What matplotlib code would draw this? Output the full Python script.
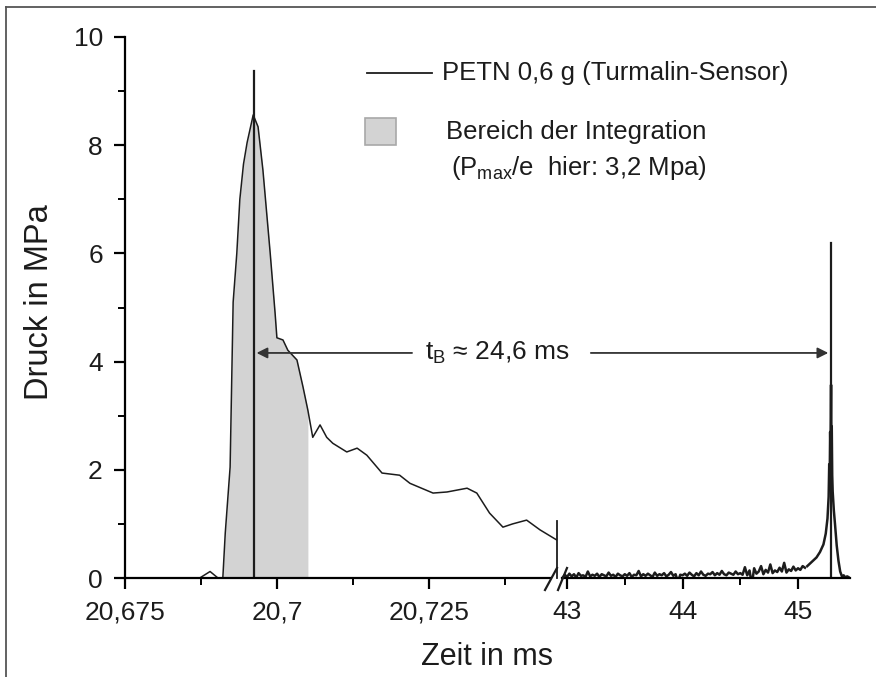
import numpy as np
import matplotlib
matplotlib.use("Agg")
import matplotlib.pyplot as plt
from matplotlib.patches import Rectangle
from matplotlib.lines import Line2D

plt.rcParams['font.family'] = ['Liberation Sans', 'DejaVu Sans']
plt.rcParams['mathtext.default'] = 'regular'

# first pulse (time in ms, pressure in MPa)
t_left = [20.6753, 20.6873, 20.6890, 20.6903, 20.6911, 20.6915, 20.6923, 20.6928, 20.6934, 20.6939,
          20.6945, 20.6951, 20.6961, 20.6969, 20.6977, 20.6989, 20.6997, 20.7000, 20.7010, 20.7018,
          20.7033, 20.7043, 20.7051, 20.7059, 20.7071, 20.7082, 20.7092, 20.7115, 20.7132, 20.7148,
          20.7173, 20.7202, 20.7219, 20.7257, 20.7280, 20.7313, 20.7329, 20.7350, 20.7372, 20.7388,
          20.7411, 20.7433, 20.7461]
p_left = [0, 0, 0.12, 0, 0, 0.83, 2.05, 5.1, 6.0, 7.0,
          7.65, 8.05, 8.56, 8.34, 7.54, 6.0, 4.9, 4.44, 4.4, 4.21,
          4.03, 3.53, 3.1, 2.6, 2.83, 2.6, 2.49, 2.33, 2.40, 2.27,
          1.94, 1.9, 1.75, 1.57, 1.59, 1.66, 1.57, 1.2, 0.94, 1.0,
          1.07, 0.89, 0.70]
integ_start, integ_end = 20.6911, 20.7051

# noisy baseline before the reflected peak (sampled every 0.02 ms from 42.96 ms)
p_noise = [0.00, 0.06, 0.02, 0.08, 0.03, 0.07, 0.01, 0.09, 0.04, 0.05, 0.02, 0.12, 0.03, 0.06,
           0.04, 0.08, 0.02, 0.07, 0.05, 0.03, 0.10, 0.04, 0.06, 0.02, 0.08, 0.05, 0.03, 0.07,
           0.04, 0.09, 0.02, 0.06, 0.05, 0.13, 0.03, 0.07, 0.04, 0.08, 0.05, 0.02, 0.10, 0.04,
           0.07, 0.05, 0.09, 0.03, 0.06, 0.11, 0.04, 0.07, -0.08, 0.06, 0.05,
           0.08, 0.04, 0.10, 0.06, 0.03, 0.09, 0.05, 0.12, 0.06, 0.04, 0.08, 0.07, 0.11, 0.05,
           0.09, 0.06, 0.13, 0.07, 0.05, 0.10, 0.08, 0.06, 0.12, 0.07, 0.09,
           0.06, 0.20, 0.05, 0.14, -0.12, 0.18, 0.08, 0.12, 0.22, 0.07, 0.15, 0.10, 0.25, 0.09,
           0.14, 0.11, 0.19, 0.12, 0.28, 0.10, 0.16, 0.13, 0.21, 0.14, 0.18, 0.15, 0.22, 0.19]
t_noise = 42.96 + 0.02 * np.arange(len(p_noise))

# reflected peak
t_peak = [45.08, 45.12, 45.16, 45.19, 45.22, 45.24, 45.255, 45.265, 45.270, 45.274,
          45.278, 45.281, 45.284, 45.286, 45.289, 45.292, 45.296, 45.300, 45.310, 45.320,
          45.335, 45.350, 45.365, 45.380, 45.395, 45.41, 45.425, 45.435]
p_peak = [0.22, 0.30, 0.38, 0.48, 0.62, 0.82, 1.10, 1.50, 2.10, 1.80,
          2.70, 2.30, 3.10, 3.57, 2.50, 2.80, 1.90, 1.60, 1.25, 1.00,
          0.60, 0.32, 0.12, 0.03, 0.05, 0.01, 0.03, 0.02]

t_first, h_first = 20.6962, 9.37
t_second, h_second = 45.286, 6.19
cut_height = 1.05
arrow_y = 4.16

W, H = 876, 677
def fx(x): return x / W
def fy(y): return 1 - y / H

fig = plt.figure(figsize=(W / 100, H / 100), dpi=100)
ink = '#1c1c1c'

ax1 = fig.add_axes([fx(125), fy(578), fx(557 - 125), (578 - 37) / H])
ax2 = fig.add_axes([fx(557), fy(578), fx(850 - 557), (578 - 37) / H])
for ax in (ax1, ax2):
    ax.set_ylim(0, 10)
    ax.patch.set_alpha(0)
    for s in ('top', 'right'):
        ax.spines[s].set_visible(False)
    ax.spines['bottom'].set_linewidth(1.6)
    ax.spines['left'].set_linewidth(1.6)
    ax.tick_params(which='major', direction='out', length=8, width=1.6, labelsize=19,
                   labelcolor=ink, pad=8)
    ax.tick_params(which='minor', direction='out', length=5, width=1.4)

ax1.set_xlim(20.675, 20.7461)
ax1.set_xticks([20.675, 20.7, 20.725])
ax1.set_xticklabels(['20,675', '20,7', '20,725'])
ax1.set_xticks([20.6875, 20.7125, 20.7375], minor=True)
ax1.set_yticks([0, 2, 4, 6, 8, 10])
ax1.set_yticks([1, 3, 5, 7, 9], minor=True)
ax1.spines['bottom'].set_bounds(20.675, 20.7449)

ax2.set_xlim(42.913, 45.45)
ax2.set_xticks([43, 44, 45])
ax2.set_xticklabels(['43', '44', '45'])
ax2.set_xticks([43.5, 44.5], minor=True)
ax2.spines['left'].set_visible(False)
ax2.tick_params(axis='y', which='both', left=False, labelleft=False)
ax2.spines['bottom'].set_bounds(42.957, 45.45)

# integration area and curves
t_arr = np.array(t_left)
ax1.fill_between(t_left, p_left, 0, where=(t_arr >= integ_start) & (t_arr <= integ_end),
                 color='#d3d3d3', lw=0)
ax1.plot(t_left, p_left, color=ink, lw=1.1)
ax1.plot([t_first, t_first], [0, h_first], color=ink, lw=1.6)
ax1.plot([t_left[-1], t_left[-1]], [0, cut_height], color=ink, lw=1.3, clip_on=False)

ax2.plot(t_noise, p_noise, color=ink, lw=1.8)
ax2.plot(t_peak, p_peak, color=ink, lw=1.8)
ax2.plot([t_second, t_second], [0, h_second], color=ink, lw=1.6)

# break marks
for x0, x1 in ((545, 557), (558, 567)):
    fig.add_artist(Line2D([fx(x0), fx(x1)], [fy(590), fy(568)], color=ink, lw=1.6))

# duration arrow
arrow_col = '#333333'
ax1.annotate('', xy=(t_first, arrow_y), xytext=(20.7227, arrow_y),
             arrowprops=dict(arrowstyle='-|>', color=arrow_col, lw=1.3, mutation_scale=16))
ax2.annotate('', xy=(t_second, arrow_y), xytext=(43.182, arrow_y),
             arrowprops=dict(arrowstyle='-|>', color=arrow_col, lw=1.3, mutation_scale=16))
ax1.text(20.7362, arrow_y, 't$_B$ ≈ 24,6 ms', fontsize=19, color=ink,
         ha='center', va='center', clip_on=False)

# legend
fig.add_artist(Line2D([fx(367), fx(432)], [fy(73), fy(73)], color=ink, lw=1.3))
fig.text(fx(442), fy(73), 'PETN 0,6 g (Turmalin-Sensor)', fontsize=18.5, color=ink, va='center')
fig.add_artist(Rectangle((fx(365), fy(145)), fx(31), 27 / H, transform=fig.transFigure,
                         facecolor='#d3d3d3', edgecolor='#a8a8a8', lw=1.2))
fig.text(fx(446), fy(132), 'Bereich der Integration', fontsize=18.5, color=ink, va='center')
fig.text(fx(451), fy(168), '(P$_{max}$/e  hier: 3,2 Mpa)', fontsize=18.5, color=ink, va='center')

# axis titles
fig.text(fx(40), fy(302), 'Druck in MPa', fontsize=23.5, color=ink, rotation=90,
         ha='center', va='center')
fig.text(fx(487), fy(657), 'Zeit in ms', fontsize=22, color=ink, ha='center', va='center')

# picture frame
fig.add_artist(Line2D([fx(6), fx(6)], [0, fy(7)], color='#555555', lw=1.3))
fig.add_artist(Line2D([fx(6), 1], [fy(7), fy(7)], color='#555555', lw=1.3))

fig.savefig('out.png', dpi=100)
